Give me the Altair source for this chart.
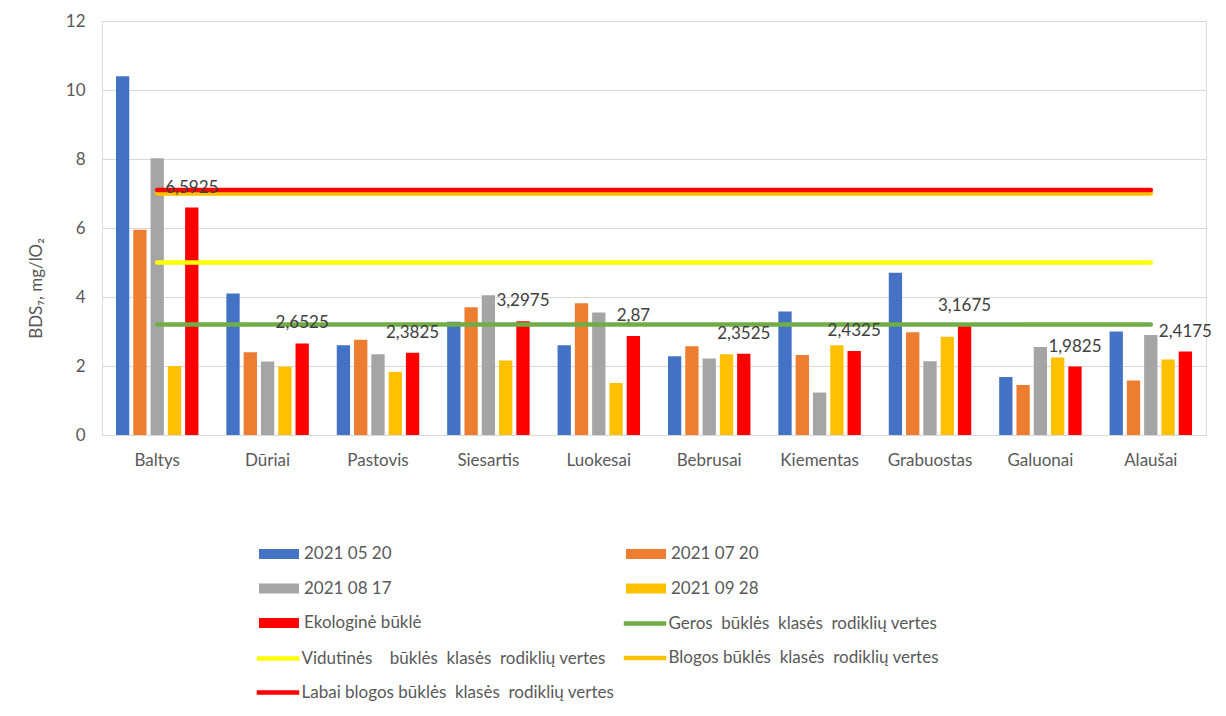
import altair as alt
import pandas as pd

categories = ["Baltys", "Dūriai", "Pastovis", "Siesartis", "Luokesai",
              "Bebrusai", "Kiementas", "Grabuostas", "Galuonai", "Alaušai"]
s_0520 = [10.4, 4.1, 2.6, 3.28, 2.6, 2.28, 3.58, 4.7, 1.68, 3.0]
s_0720 = [5.95, 2.4, 2.76, 3.7, 3.82, 2.57, 2.32, 2.98, 1.45, 1.58]
s_0817 = [8.02, 2.13, 2.34, 4.05, 3.55, 2.22, 1.23, 2.14, 2.55, 2.9]
s_0928 = [2.0, 1.98, 1.83, 2.16, 1.51, 2.34, 2.6, 2.85, 2.25, 2.19]
ekologine = [6.5925, 2.6525, 2.3825, 3.2975, 2.87, 2.3525, 2.4325, 3.1675, 1.9825, 2.4175]

bar_series = ["2021 05 20", "2021 07 20", "2021 08 17", "2021 09 28", "Ekologinė būklė"]
bar_values = [s_0520, s_0720, s_0817, s_0928, ekologine]
bar_colors = ["#4472C4", "#ED7D31", "#A5A5A5", "#FFC000", "#FF0000"]

NB = "\u00a0 "
line_series = [
    f"Geros{NB}būklės{NB}klasės{NB}rodiklių vertes",
    f"Vidutinės{NB}{NB}būklės{NB}klasės{NB}rodiklių vertes",
    f"Blogos būklės{NB}klasės{NB}rodiklių vertes",
    f"Labai blogos būklės{NB}klasės{NB}rodiklių vertes",
]
line_values = [3.2, 5.0, 7.0, 7.1]
line_colors = ["#70AD47", "#FFFF00", "#FFC000", "#FF0000"]

bars_df = pd.DataFrame(
    [(c, s, v[i]) for s, v in zip(bar_series, bar_values) for i, c in enumerate(categories)],
    columns=["category", "series", "value"],
)
lines_df = pd.DataFrame(
    [(c, s, v) for s, v in zip(line_series, line_values) for c in categories],
    columns=["category", "series", "value"],
)
labels_df = pd.DataFrame({"category": categories, "series": bar_series[4], "value": ekologine})

font = "Lato"
gray = "#595959"
FS = 17
BAR_SYM = "M-2,-0.5H2V0.5H-2Z"
LINE_SYM = "M-2,-0.1H2V0.1H-2Z"


def legend(x, y, sym, offset, pad, line=False):
    kw = dict(
        title=None, orient="none", legendX=x, legendY=y, direction="vertical",
        rowPadding=pad, labelFont=font, labelFontSize=FS, labelColor=gray,
        labelLimit=600, labelOffset=offset, symbolSize=400, symbolType=sym,
    )
    if line:
        kw["symbolStrokeWidth"] = 2.5
    return alt.Legend(**kw)


x_enc = alt.X(
    "category:N",
    sort=categories,
    scale=alt.Scale(paddingInner=0.253, paddingOuter=0.1265),
    axis=alt.Axis(
        title=None, labelAngle=0, domain=False, ticks=False,
        labelFont=font, labelFontSize=FS, labelColor=gray, labelPadding=17,
    ),
)
y_enc = alt.Y(
    "value:Q",
    scale=alt.Scale(domain=[0, 12]),
    axis=alt.Axis(
        title="BDS₇, mg/lO₂", values=[0, 2, 4, 6, 8, 10, 12], domain=False, ticks=False,
        gridColor="#D9D9D9", gridWidth=1,
        labelFont=font, labelFontSize=FS, labelColor=gray, labelPadding=17,
        titleFont=font, titleFontSize=FS, titleColor=gray, titleFontWeight="normal",
        titleX=-66, titleY=267, titleAngle=270, titleAlign="center", titleBaseline="middle",
    ),
)
xoff = alt.XOffset("series:N", scale=alt.Scale(domain=bar_series, paddingInner=0.23, paddingOuter=0))


def bar_layer(idx, lg):
    names = [bar_series[i] for i in idx]
    cols = [bar_colors[i] for i in idx]
    return alt.Chart(bars_df).transform_filter(
        alt.FieldOneOfPredicate(field="series", oneOf=names)
    ).mark_bar().encode(
        x=x_enc, xOffset=xoff, y=y_enc,
        color=alt.Color("series:N", scale=alt.Scale(domain=names, range=cols), legend=lg),
    )


def line_layer(idx, lg):
    names = [line_series[i] for i in idx]
    cols = [line_colors[i] for i in idx]
    return alt.Chart(lines_df).transform_filter(
        alt.FieldOneOfPredicate(field="series", oneOf=names)
    ).mark_line(strokeWidth=4.5, strokeCap="round").encode(
        x=alt.X("category:N", sort=categories, bandPosition=0.5),
        y="value:Q",
        color=alt.Color("series:N", scale=alt.Scale(domain=names, range=cols), legend=lg),
        detail="series:N",
    )


bars_a = bar_layer([0, 2, 4], legend(166, 522, BAR_SYM, 14, 15.5))
bars_b = bar_layer([1, 3], legend(533, 522, BAR_SYM, 14, 15.5))
lines_d = line_layer([0, 2], legend(531.5, 591, LINE_SYM, 12, 14.5, True))
lines_c = line_layer([1, 3], legend(164.5, 626, LINE_SYM, 12, 14, True))

labels = alt.Chart(labels_df).transform_calculate(
    label="replace(format(datum.value, '.4~f'), '.', ',')"
).mark_text(font=font, fontSize=FS, color="#404040", dy=-20, baseline="middle").encode(
    x=alt.X("category:N", sort=categories),
    xOffset=xoff,
    y="value:Q",
    text="label:N",
)

chart = alt.layer(bars_a, bars_b, lines_d, lines_c, labels).resolve_scale(
    color="independent"
).resolve_legend(color="independent").properties(
    width=1104,
    height=414,
    autosize=alt.AutoSizeParams(type="none"),
    padding={"left": 94, "top": 13, "right": 12, "bottom": 273},
).configure_view(stroke=None).configure(background="white")

chart.save("out.html", embed_options={"renderer": "svg", "actions": False})
